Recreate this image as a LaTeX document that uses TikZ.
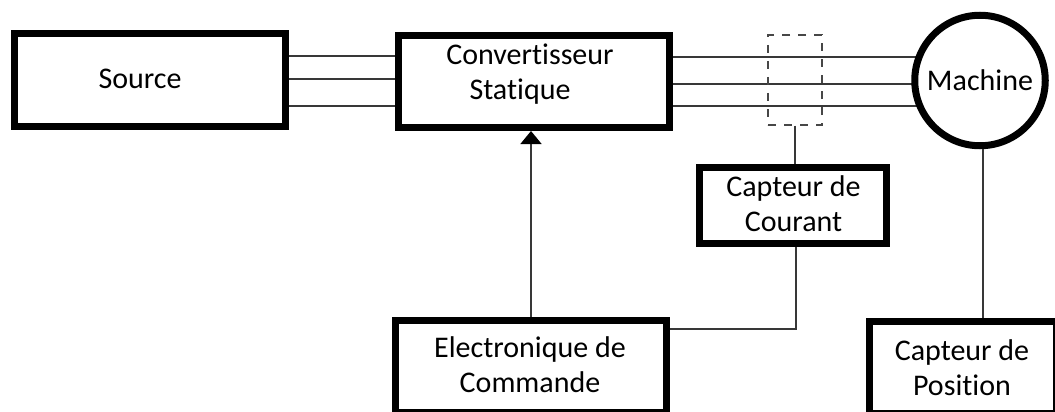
\documentclass[tikz,border=0pt]{standalone}
\usepackage{fontspec}
\setmainfont{Carlito}[Ligatures=NoCommon]
\usetikzlibrary{arrows.meta}
\pgfdeclarelayer{back}
\pgfsetlayers{back,main}
\begin{document}
\begin{tikzpicture}[x=1pt,y=-1pt]
\tikzset{
  blk/.style={draw=black, line width=7pt, inner sep=0pt, fill=white},
  lbl/.style={font=\fontsize{30}{35}\selectfont, align=center, inner sep=0pt, text=black},
  wire/.style={draw=black!78, line width=1.6pt},
  sensor/.style={draw=black!72, line width=1.4pt, dash pattern=on 8pt off 8pt, inner sep=0pt}
}
\useasboundingbox (0,0) rectangle (1055,412);
\clip (0,0) rectangle (1055,412);

% blocks
\node[blk, minimum width=271pt, minimum height=93pt] (src) at (150,80) {};
\node[blk, minimum width=271pt, minimum height=92pt] (cv) at (534,81.5) {};
\node[blk, circle, minimum size=130.5pt] (mach) at (980,80.5) {};
\node[blk, minimum width=187pt, minimum height=76pt] (cc) at (793,205.5) {};
\node[blk, minimum width=271pt, minimum height=92pt] (ec) at (531,366) {};
\node[blk, minimum width=187pt, minimum height=92pt] (cp) at (963,367.5) {};
\node[sensor, minimum width=54pt, minimum height=90pt] (ct) at (795,80) {};

% labels
\node[lbl] (srcT) at (140,79) {Source};
\node[lbl] (cvT) at (530,74) {Convertisseur\\Statique\hspace*{20pt}};
\node[lbl] (machT) at (980,80) {Machine};
\node[lbl] (ccT) at (793.5,203.5) {Capteur de\\Courant};
\node[lbl] (ecT) at (530,365) {Electronique de\\Commande};
\node[lbl] (cpT) at (962,367.5) {Capteur de\\Position};

% heights of the three phase wires and of the feedback wire
\coordinate (a1) at (0,56);
\coordinate (a2) at (0,79);
\coordinate (a3) at (0,106);
\coordinate (b1) at (0,57);
\coordinate (b2) at (0,84);
\coordinate (b3) at (0,106);
\coordinate (fb) at (0,329);
% tapping points on the lower edge of the current sensor and of the machine
\coordinate (ccb) at ([xshift=3pt]cc.south);
\coordinate (mab) at ([xshift=3pt]mach.south);

\begin{pgfonlayer}{back}
  \foreach \k in {a1,a2,a3}
    \draw[wire] (src.east |- \k) -- (cv.west |- \k);
  \foreach \k in {b1,b2,b3}
    \draw[wire] (cv.east |- \k) -- (mach.center |- \k);
\end{pgfonlayer}

% command and measurement links
\draw[wire, -{Triangle[width=21pt,length=13pt,color=black,fill=black]}] (ec.north) -- (ec.north |- cv.south);
\draw[wire] (ct.south) -- (ct.south |- cc.north);
\draw[wire] (ec.east |- fb) -| (ccb);
\draw[wire] (mab) -- (mab |- cp.north);
\end{tikzpicture}
\end{document}
